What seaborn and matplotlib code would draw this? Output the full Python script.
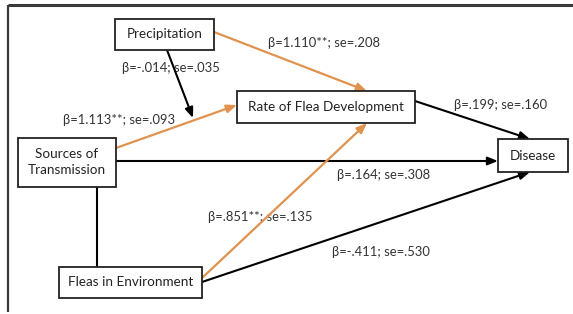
import matplotlib
matplotlib.use("Agg")
import matplotlib.pyplot as plt
import seaborn as sns
from matplotlib.patches import Rectangle

sns.set_theme(style="white")
plt.rcParams['font.family'] = ['Lato', 'DejaVu Sans']

# ---- data ----
nodes = ["Precipitation", "Rate of Flea Development", "Sources of\nTransmission",
         "Fleas in Environment", "Disease"]
edge_from = ["Precipitation", "Sources of\nTransmission", "Rate of Flea Development",
             "Sources of\nTransmission", "Fleas in Environment", "Fleas in Environment",
             "Precipitation", "Sources of\nTransmission"]
edge_to = ["Rate of Flea Development", "Rate of Flea Development", "Disease",
           "Disease", "Rate of Flea Development", "Disease",
           "moderation", "Fleas in Environment"]
edge_labels = ["β=1.110**; se=.208", "β=1.113**; se=.093", "β=.199; se=.160",
               "β=.164; se=.308", "β=.851**; se=.135", "β=-.411; se=.530",
               "β=-.014; se=.035", ""]
significant = [True, True, False, False, True, False, False, False]
directed = [True, True, True, True, True, True, True, False]

# ---- layout (pixel coordinates) ----
box = {  # x0, y0, x1, y1
    "Precipitation": (115, 19, 214, 50),
    "Rate of Flea Development": (237, 91, 415, 123),
    "Sources of\nTransmission": (18, 138, 116, 187),
    "Fleas in Environment": (59, 267, 202, 298),
    "Disease": (498, 139, 568, 172),
}
edge_pts = [
    ((214, 32), (367, 91)),
    ((116, 148), (237, 105)),
    ((415, 101), (530, 139)),
    ((116, 161), (498, 161)),
    ((202, 278), (367, 123)),
    ((202, 282), (530, 172)),
    ((167, 50), (193, 118)),
    ((97, 187), (97, 267)),
]
label_pos = [(324, 43), (119, 120), (501, 105), (384, 175), (260, 217), (381, 252), (171, 68), (0, 0)]

orange = "#E0924F"

fig = plt.figure(figsize=(5.73, 3.14), dpi=100)
ax = fig.add_axes([0, 0, 1, 1])
ax.set_xlim(0, 573)
ax.set_ylim(314, 0)
ax.axis("off")

# frame
ax.plot([7.5, 573], [4.5, 4.5], color="#3a3a3a", lw=2.2, solid_capstyle="butt")
ax.plot([7.5, 7.5], [4.5, 312], color="#3a3a3a", lw=1.6, solid_capstyle="butt")

# edges
for (p0, p1), sig, d in zip(edge_pts, significant, directed):
    col = orange if sig else "black"
    lw = 1.6 if sig else 1.5
    if d:
        ax.annotate("", xy=p1, xytext=p0,
                    arrowprops=dict(arrowstyle="-|>,head_length=0.5,head_width=0.2",
                                    color=col, lw=lw, shrinkA=0, shrinkB=0))
    else:
        ax.plot([p0[0], p1[0]], [p0[1], p1[1]], color=col, lw=lw)

# boxes
for n in nodes:
    x0, y0, x1, y1 = box[n]
    ax.add_patch(Rectangle((x0, y0), x1 - x0, y1 - y0, facecolor="white",
                           edgecolor="#222222", lw=1.3, zorder=3))
    ax.text((x0 + x1) / 2, (y0 + y1) / 2, n, ha="center", va="center",
            fontsize=9.7, color="#222222", zorder=4, linespacing=1.4)

# labels
for lab, (x, y) in zip(edge_labels, label_pos):
    if lab:
        ax.text(x, y, lab, ha="center", va="center", fontsize=9.4, color="#333333", zorder=2)

fig.savefig("out.png", dpi=100)
